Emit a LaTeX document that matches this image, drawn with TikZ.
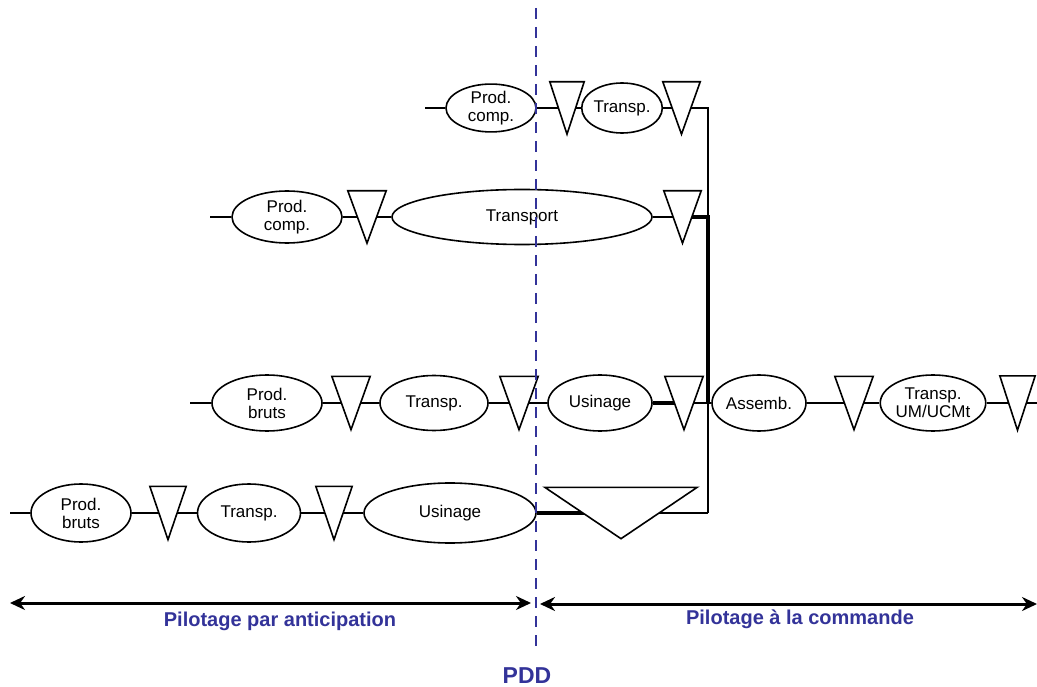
\documentclass[tikz,border=0pt]{standalone}
\usepackage{fontspec}
\setmainfont{Liberation Sans}
\usetikzlibrary{arrows.meta,shapes.geometric,backgrounds}

\definecolor{pddblue}{RGB}{51,51,153}

\tikzset{
  op/.style={draw, ellipse, fill=white, line width=1.6pt, inner sep=0pt, align=center, font=\fontsize{17}{18}\selectfont},
  stockbox/.style={inner sep=0pt, minimum width=37pt, minimum height=52pt},
  flux/.style={line width=1.4pt},
  fluxfort/.style={line width=3.8pt},
  pilot/.style={line width=3pt, {Stealth[length=15pt,width=14pt]}-{Stealth[length=15pt,width=14pt]}},
  lbl/.style={text=pddblue, font=\fontsize{20}{22}\selectfont\bfseries}
}

\begin{document}
\begin{tikzpicture}[x=1pt,y=-1pt]
\useasboundingbox (0,0) rectangle (1037,687);

% ligne 1
\coordinate (d1) at (425,108);
\node[op,minimum width=90pt,minimum height=46pt] (pc1) at (491,108) {Prod.\\comp.};
\node[stockbox,minimum width=34pt] (s11) at (567,108) {};
\node[op,minimum width=80pt,minimum height=50pt] (tr1) at (622,108) {Transp.};
\node[stockbox] (s12) at (681.5,108) {};
\coordinate (j1) at (708,108);

% ligne 2
\coordinate (d2) at (210,217);
\node[op,minimum width=110pt,minimum height=52pt] (pc2) at (287,217) {Prod.\\comp.};
\node[stockbox,minimum width=38pt] (s21) at (367,217) {};
\node[op,minimum width=260pt,minimum height=55pt] (tp2) at (522,217) {Transport};
\node[stockbox] (s22) at (682.5,217) {};
\coordinate (j2) at (708,217);

% ligne 3
\coordinate (d3) at (190,403);
\node[op,minimum width=110pt,minimum height=56pt] (pb3) at (267,403) {Prod.\\bruts};
\node[stockbox,minimum width=38pt,minimum height=53pt] (s31) at (351,403) {};
\node[op,minimum width=108pt,minimum height=55pt] (tr3) at (434,403) {Transp.};
\node[stockbox,minimum width=38pt,minimum height=53pt] (s32) at (519,403) {};
\node[op,minimum width=104pt,minimum height=56pt] (us3) at (600,403) {Usinage};
\node[stockbox,minimum width=38pt,minimum height=53pt] (s33) at (684,403) {};
\coordinate (j3) at (708,403);
\node[op,minimum width=94pt,minimum height=56pt] (as3) at (759,403) {Assemb.};
\node[stockbox,minimum width=38pt,minimum height=53pt] (s34) at (854,403) {};
\node[op,minimum width=104pt,minimum height=56pt] (um3) at (933,403) {Transp.\\UM/UCMt};
\node[stockbox,minimum width=35pt,minimum height=54pt] (s35) at (1017.5,403) {};
\coordinate (f3) at (1037,403);

% ligne 4
\coordinate (d4) at (10,513);
\node[op,minimum width=100pt,minimum height=58pt] (pb4) at (81,513) {Prod.\\bruts};
\node[stockbox,minimum width=36pt,minimum height=53pt] (s41) at (168,513) {};
\node[op,minimum width=103pt,minimum height=58pt] (tr4) at (249,513) {Transp.};
\node[stockbox,minimum width=36pt,minimum height=53pt] (s42) at (334,513) {};
\node[op,minimum width=172pt,minimum height=60pt] (us4) at (450,513) {Usinage};
\node[stockbox,minimum width=152pt,minimum height=51pt] (s43) at (621,513) {};
\coordinate (j4) at (708,513);

% stocks
\foreach \s in {s11,s12,s21,s22,s31,s32,s33,s34,s35,s41,s42,s43}
  \draw[line width=1.6pt,fill=white] (\s.north west) -- (\s.north east) -- (\s.south) -- cycle;

\begin{scope}[on background layer]
\draw[flux] (d1) -- (pc1) -- (s11.center) -- (tr1) -- (s12.center) -- (j1) -- (j4);
\draw[flux] (d2) -- (pc2) -- (s21.center) -- (tp2) -- (s22.center);
\draw[fluxfort] (s22.center) -- (j2) -- (j3);
\draw[flux] (d3) -- (pb3) -- (s31.center) -- (tr3) -- (s32.center) -- (us3);
\draw[fluxfort] (us3) -- (s33.center);
\draw[flux] (s33.center) -- (as3) -- (s34.center) -- (um3) -- (s35.center) -- (f3);
\draw[flux] (d4) -- (pb4) -- (s41.center) -- (tr4) -- (s42.center) -- (us4);
\draw[fluxfort] (us4) -- (s43.center);
\draw[flux] (s43.center) -- (j4);
\end{scope}

% pilotage
\coordinate (ga) at (10,603);
\coordinate (gb) at (531,603);
\coordinate (da) at (540,604);
\coordinate (db) at (1037,604);
\draw[pilot] (ga) -- (gb);
\draw[pilot] (da) -- (db);
\node[lbl] (anticip) at (280,621) {Pilotage par anticipation};
\node[lbl] (cmd) at (800,619) {Pilotage à la commande};

% PDD
\coordinate (pddtop) at (536,8);
\node[lbl,font=\fontsize{23}{24}\selectfont\bfseries] (pdd) at (527,676) {PDD};
\draw[pddblue,line width=2.8pt,dash pattern=on 11pt off 8pt,shorten >=14pt] (pddtop) -- (pddtop |- pdd.north);
\end{tikzpicture}
\end{document}
